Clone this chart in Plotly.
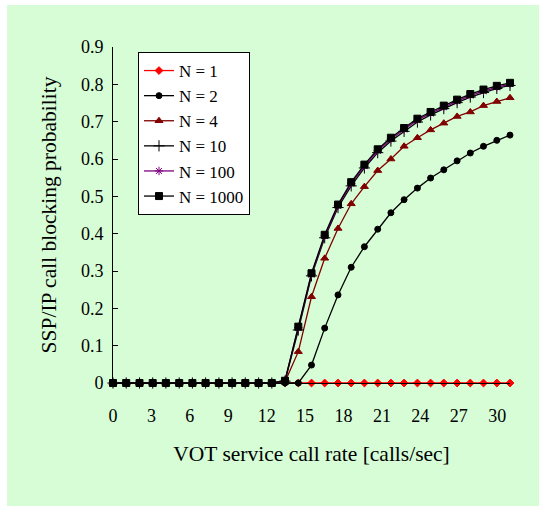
import plotly.graph_objects as go

# VOT service call rate [calls/sec] for each of the 31 sample points
rate = [0, 1.03, 2.07, 3.1, 4.13, 5.17, 6.2, 7.23, 8.27, 9.3, 10.33, 11.37, 12.4,
        13.43, 14.47, 15.5, 16.53, 17.57, 18.6, 19.63, 20.67, 21.7, 22.73, 23.77,
        24.8, 25.83, 26.87, 27.9, 28.93, 29.97, 31]

n1 = [0, 0, 0, 0, 0, 0, 0, 0, 0, 0, 0, 0, 0, 0, 0, 0,
      0, 0, 0, 0, 0, 0, 0, 0, 0, 0, 0, 0, 0, 0, 0]
n2 = [0, 0, 0, 0, 0, 0, 0, 0, 0, 0, 0, 0, 0, 0, 0,
      0.048, 0.147, 0.236, 0.310, 0.365, 0.412, 0.456, 0.491, 0.522, 0.549,
      0.571, 0.595, 0.616, 0.634, 0.650, 0.664]
n4 = [0, 0, 0, 0, 0, 0, 0, 0, 0, 0, 0, 0, 0, 0.003,
      0.084, 0.231, 0.334, 0.414, 0.480, 0.526, 0.569, 0.600, 0.634, 0.657,
      0.678, 0.696, 0.714, 0.726, 0.743, 0.754, 0.764]
n10 = [0, 0, 0, 0, 0, 0, 0, 0, 0, 0, 0, 0, 0, 0.005,
       0.142, 0.287, 0.389, 0.470, 0.528, 0.576, 0.617, 0.648, 0.674, 0.699,
       0.718, 0.735, 0.751, 0.766, 0.778, 0.789, 0.797]
n100 = [0, 0, 0, 0, 0, 0, 0, 0, 0, 0, 0, 0, 0, 0.006,
        0.148, 0.291, 0.394, 0.475, 0.534, 0.581, 0.622, 0.653, 0.679, 0.704,
        0.722, 0.739, 0.755, 0.770, 0.782, 0.792, 0.801]
n1000 = [0, 0, 0, 0, 0, 0, 0, 0, 0, 0, 0, 0, 0, 0.006,
         0.151, 0.294, 0.397, 0.478, 0.538, 0.585, 0.626, 0.657, 0.683, 0.708,
         0.726, 0.743, 0.759, 0.774, 0.786, 0.796, 0.804]

x_ticks = [0, 3, 6, 9, 12, 15, 18, 21, 24, 27, 30]
y_ticks = [0, 0.1, 0.2, 0.3, 0.4, 0.5, 0.6, 0.7, 0.8, 0.9]

series = [
    ("N = 1", n1, "#ff0000", "diamond", 6),
    ("N = 2", n2, "#000000", "circle", 6),
    ("N = 4", n4, "#800000", "triangle-up", 7),
    ("N = 10", n10, "#000000", "cross-thin", 8),
    ("N = 100", n100, "#800080", "asterisk", 7),
    ("N = 1000", n1000, "#000000", "square", 7),
]

GREEN = "#d6fdd6"
FONT = "Times New Roman, Liberation Serif, DejaVu Serif, serif"

fig = go.Figure()
for name, vals, color, sym, size in series:
    fig.add_trace(go.Scatter(
        x=rate, y=vals, name=name, mode="lines+markers",
        line=dict(color=color, width=1.3),
        marker=dict(symbol=sym, size=size, color=color,
                    line=dict(color=color, width=1)),
        cliponaxis=False,
    ))

L, R, T, B = 113, 31, 47, 123
W, H = 541, 506
pw, ph = W - L - R, H - T - B

fig.add_shape(type="rect", xref="paper", yref="paper", layer="below",
              x0=(7 - L) / pw, x1=(539 - L) / pw,
              y0=(H - B - 506) / ph, y1=(H - B - 5) / ph,
              fillcolor=GREEN, line=dict(width=0))

fig.update_layout(
    width=W, height=H,
    margin=dict(l=L, r=R, t=T, b=B),
    paper_bgcolor="white", plot_bgcolor=GREEN,
    font=dict(family=FONT, size=18, color="black"),
    showlegend=True,
    legend=dict(x=(138 - L) / pw, y=(H - B - 52) / ph, xanchor="left", yanchor="top",
                bgcolor="white", bordercolor="black", borderwidth=1,
                entrywidth=100, entrywidthmode="pixels",
                font=dict(family=FONT, size=17, color="black"), tracegroupgap=0),
    xaxis=dict(range=[0, 31], tickvals=x_ticks, ticktext=[str(v) for v in x_ticks],
               showgrid=False, zeroline=False, showline=True, linecolor="black",
               linewidth=1, ticks="", ticklabelstandoff=16,
               tickfont=dict(family=FONT, size=18, color="black"),
               title=dict(text="VOT service call rate [calls/sec]",
                          font=dict(family=FONT, size=21.5, color="black"), standoff=21)),
    yaxis=dict(range=[0, 0.9], tickvals=y_ticks, ticktext=[f"{v:g}" for v in y_ticks],
               showgrid=False, zeroline=False, showline=True, linecolor="black",
               linewidth=1, ticks="inside", ticklen=5, tickcolor="black",
               ticklabelstandoff=5,
               tickfont=dict(family=FONT, size=18, color="black"),
               title=dict(text="SSP/IP call blocking probability",
                          font=dict(family=FONT, size=21.5, color="black"), standoff=18)),
)

fig.write_html("out.html")
